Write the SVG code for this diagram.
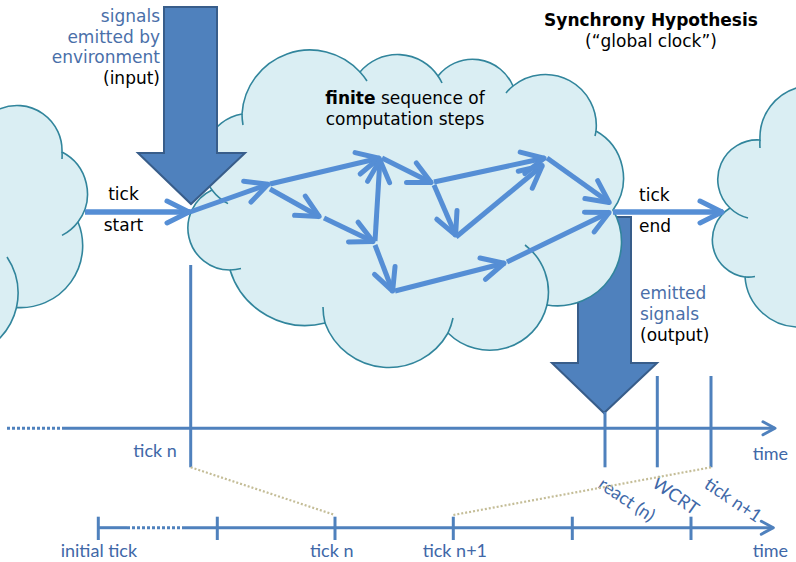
<svg xmlns="http://www.w3.org/2000/svg" width="796" height="562" viewBox="0 0 796 562">
<defs>
<style>
.cloud{fill:#DAEEF3;stroke:#31859C;stroke-width:1.6}
.bump{fill:none;stroke:#31859C;stroke-width:1.6}
.step{fill:none;stroke:#558ED5;stroke-width:5;marker-end:url(#ah)}
.tk{fill:none;stroke:#558ED5;stroke-width:5.5;marker-end:url(#ah)}
.block{fill:#4F81BD;stroke:#385D8A;stroke-width:2}
.tl{fill:none;stroke:#4F81BD;stroke-width:3}
.tla{fill:none;stroke:#4F81BD;stroke-width:3;marker-end:url(#th)}
.dot{fill:none;stroke:#4F81BD;stroke-width:3;stroke-dasharray:3 2}
.tan{fill:none;stroke:#C4BD97;stroke-width:2.2;stroke-dasharray:2 2}
.v{font-family:"DejaVu Sans",Verdana,sans-serif;font-size:17px}
.k{fill:#000}
.b{fill:#4A6FA9}
.c{font-family:Lato,"Liberation Sans",sans-serif;font-size:18px;fill:#4068A8}
</style>
<marker id="ah" markerUnits="userSpaceOnUse" orient="auto" markerWidth="40" markerHeight="40" viewBox="-30 -20 40 40" refX="0" refY="0" style="overflow:visible">
<path d="M-23,-11 L-1,0 L-23,11" fill="none" stroke="#558ED5" stroke-width="5" stroke-linecap="round" stroke-linejoin="round"/>
</marker>
<marker id="th" markerUnits="userSpaceOnUse" orient="auto" markerWidth="30" markerHeight="30" viewBox="-20 -15 30 30" refX="0" refY="0" style="overflow:visible">
<path d="M-12,-6.5 L0,0 L-12,6.5" fill="none" stroke="#4F81BD" stroke-width="3" stroke-linecap="round" stroke-linejoin="round"/>
</marker>
</defs>

<g id="cloud-prev">
<path class="cloud" d="M-10,108.8 L0,108.8 A45 45 0 0 1 62,152 A47 47 0 0 1 78,222 A62 62 0 0 1 16.5,307.5 A66 66 0 0 1 0,338 L-10,338 Z"/>
<path class="bump" d="M62,152 A45 45 0 0 1 62,159 M78,222 A47 47 0 0 1 62,235.4 M7,257 A66 66 0 0 1 16.5,307.5"/>
</g>

<g id="cloud-next">
<path class="cloud" d="M810,87 L800,87 A52 52 0 0 0 760,140 A39.5 39.5 0 0 0 730,208 A37.5 37.5 0 0 0 745,277 A54 54 0 0 0 800,327 L810,327 Z"/>
<path class="bump" d="M760,140 A52 52 0 0 0 760,148 M730,208 A39.5 39.5 0 0 0 748,218 M745,277 A37.5 37.5 0 0 0 755,276.5"/>
</g>

<g id="output-arrow">
<polygon class="block" points="578,217 631,217 631,363 657,363 604,413 552,363 578,363"/>
</g>

<g id="cloud-main">
<path class="cloud" d="M230,270 A42 42 0 0 1 212,190 A48 48 0 0 1 242,114 A68 68 0 0 1 360,72 A49 49 0 0 1 438,76 A44 44 0 0 1 513,86 A51 51 0 0 1 596,131 A54 54 0 0 1 613,210 A64 64 0 0 1 547,305 A59 59 0 0 1 448,333 A68 68 0 0 1 325,323 A79 79 0 0 1 230,270 Z"/>
<path class="bump" d="M241,268.6 A42 42 0 0 1 230,270 M228,203.6 A48 48 0 0 1 212,190 M243,125 A68 68 0 0 1 242,114 M360,72 A68 68 0 0 1 367,81 M438,76 A49 49 0 0 1 442,83 M506,93 A51 51 0 0 1 513,86 M596,131 A51 51 0 0 1 595,136 M525,245 A59 59 0 0 1 547,305 M453,318 A68 68 0 0 1 448,333 M325,323 A68 68 0 0 1 323,307"/>
<text class="v k" text-anchor="middle" x="405" y="104"><tspan font-weight="bold">finite</tspan> sequence of</text>
<text class="v k" text-anchor="middle" x="405" y="125">computation steps</text>
</g>

<g id="input-arrow">
<polygon class="block" points="164,7 217,7 217,153 245,153 191,204 138,153 164,153"/>
</g>

<g id="connectors">
<line class="tk" x1="85" y1="212" x2="190" y2="212"/>
<line class="tk" x1="613" y1="212" x2="723" y2="212"/>
<line class="step" x1="190" y1="212" x2="269" y2="184"/>
<line class="step" x1="270" y1="184" x2="380" y2="158"/>
<line class="step" x1="270" y1="189" x2="320" y2="217"/>
<line class="step" x1="324" y1="218" x2="374" y2="242"/>
<line class="step" x1="375" y1="241" x2="380" y2="159"/>
<line class="step" x1="382" y1="158" x2="432" y2="183"/>
<line class="step" x1="434" y1="182" x2="545" y2="158"/>
<line class="step" x1="434" y1="185" x2="456" y2="236"/>
<line class="step" x1="456" y1="237" x2="543" y2="165"/>
<line class="step" x1="547" y1="158" x2="610" y2="203"/>
<line class="step" x1="375" y1="245" x2="393" y2="292"/>
<line class="step" x1="395" y1="291" x2="505" y2="263"/>
<line class="step" x1="507" y1="262" x2="610" y2="212"/>
</g>

<g id="labels">
<text class="v b" text-anchor="end" x="160" y="21.7">signals</text>
<text class="v b" text-anchor="end" x="160" y="42.7">emitted by</text>
<text class="v b" text-anchor="end" x="160" y="63.3">environment</text>
<text class="v k" text-anchor="end" x="160" y="83.5">(input)</text>
<text class="v k" font-weight="bold" text-anchor="middle" x="651" y="26">Synchrony Hypothesis</text>
<text class="v k" text-anchor="middle" x="651" y="46.7">(“global clock”)</text>
<text class="v k" text-anchor="middle" x="123.5" y="200">tick</text>
<text class="v k" text-anchor="middle" x="123.5" y="231">start</text>
<text class="v k" x="639" y="200.7">tick</text>
<text class="v k" x="639" y="232">end</text>
<text class="v b" x="640" y="299.3">emitted</text>
<text class="v b" x="640" y="320">signals</text>
<text class="v k" x="640" y="341">(output)</text>
</g>

<g id="timeline-top">
<line class="dot" x1="7" y1="428.3" x2="62" y2="428.3"/>
<line class="tla" x1="62" y1="428.3" x2="775" y2="428.3"/>
<line class="tl" x1="190.7" y1="265" x2="190.7" y2="467.3"/>
<line class="tl" x1="605" y1="412" x2="605" y2="467.3"/>
<line class="tl" x1="657.3" y1="376" x2="657.3" y2="467.3"/>
<line class="tl" x1="711" y1="376" x2="711" y2="467.3"/>
<text class="c" x="133.3" y="457.3">tick n</text>
<text class="c" x="752.7" y="460">time</text>
<text class="c" transform="translate(597,487) rotate(34)">react (n)</text>
<text class="c" transform="translate(651,486) rotate(35)">WCRT</text>
<text class="c" transform="translate(703,487) rotate(34)">tick n+1</text>
</g>

<g id="zoom-lines">
<line class="tan" x1="190.7" y1="467.3" x2="335" y2="515"/>
<line class="tan" x1="711" y1="467.3" x2="453.3" y2="515"/>
</g>

<g id="timeline-bottom">
<line class="tl" x1="98.3" y1="527.7" x2="127" y2="527.7"/>
<line class="dot" x1="127" y1="527.7" x2="183" y2="527.7"/>
<line class="tla" x1="183" y1="527.7" x2="773.3" y2="527.7"/>
<line class="tl" x1="98.3" y1="516.7" x2="98.3" y2="540"/>
<line class="tl" x1="217.3" y1="516.7" x2="217.3" y2="540"/>
<line class="tl" x1="335" y1="516.7" x2="335" y2="540"/>
<line class="tl" x1="453.3" y1="516.7" x2="453.3" y2="540"/>
<line class="tl" x1="572.3" y1="516.7" x2="572.3" y2="540"/>
<line class="tl" x1="691" y1="516.7" x2="691" y2="540"/>
<text class="c" x="60.7" y="556.7">initial tick</text>
<text class="c" x="310" y="556.7">tick n</text>
<text class="c" x="422.7" y="556.7">tick n+1</text>
<text class="c" x="752.7" y="556.7">time</text>
</g>
</svg>
